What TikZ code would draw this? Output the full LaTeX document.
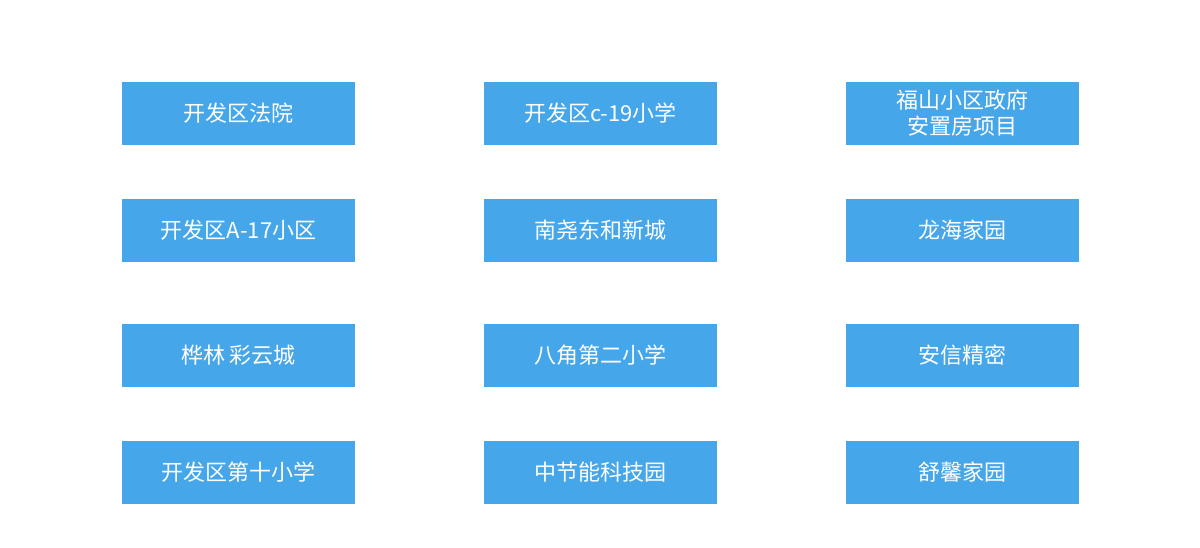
\documentclass[tikz,border=0pt]{standalone}
\usepackage{fontspec}
\newfontfamily\cjk{Noto Sans CJK SC}
\definecolor{boxblue}{HTML}{46A6EA}
\begin{document}
\begin{tikzpicture}[x=1pt,y=-1pt,
  cell/.style={fill=boxblue,text=white,minimum width=233pt,minimum height=63pt,inner sep=0pt,align=center,font=\cjk\fontsize{22}{26}\selectfont}]
\useasboundingbox (0,0) rectangle (1200,547);
\node[cell] (a1) at (238.5,113.5) {开发区法院};
\node[cell] (a2) at (600.5,113.5) {开发区c-19小学};
\node[cell] (a3) at (962.5,113.5) {福山小区政府\\安置房项目};
\node[cell] (b1) at (238.5,230.5) {开发区A-17小区};
\node[cell] (b2) at (600.5,230.5) {南尧东和新城};
\node[cell] (b3) at (962.5,230.5) {龙海家园};
\node[cell] (c1) at (238.5,355.5) {桦林 彩云城};
\node[cell] (c2) at (600.5,355.5) {八角第二小学};
\node[cell] (c3) at (962.5,355.5) {安信精密};
\node[cell] (d1) at (238.5,472.5) {开发区第十小学};
\node[cell] (d2) at (600.5,472.5) {中节能科技园};
\node[cell] (d3) at (962.5,472.5) {舒馨家园};
\end{tikzpicture}
\end{document}
